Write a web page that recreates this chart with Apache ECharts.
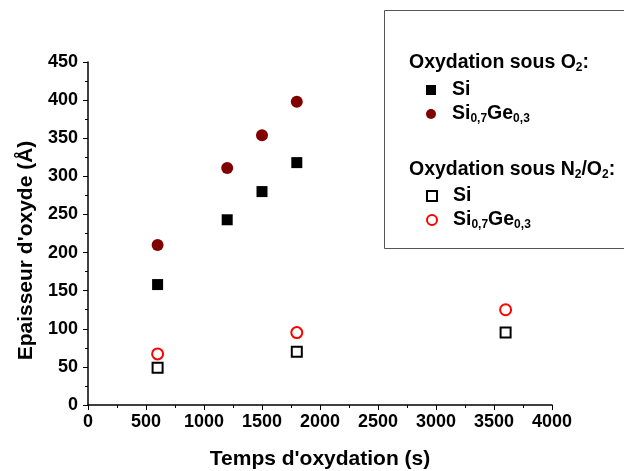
<!DOCTYPE html>
<html lang="en">
<head>
    <meta charset="UTF-8">
    <script src="https://cdn.jsdelivr.net/npm/echarts@6/dist/echarts.min.js"></script>
</head>
<body style="margin:0">
    <div id="main" style="width: 624px; height: 471px;"></div>
    <script>
        // oxidation time (s) and thickness (Å)
        var siO2 = [[600, 158], [1200, 243], [1500, 280], [1800, 318]];
        var siGeO2 = [[600, 210], [1200, 311], [1500, 354], [1800, 398]];
        var siN2O2 = [[600, 49], [1800, 70], [3600, 95]];
        var siGeN2O2 = [[600, 67], [1800, 95], [3600, 125]];

        var font = 'Liberation Sans, Arial, sans-serif';
        var rich = {
            b: {fontFamily: font, fontWeight: 'bold', fontSize: 19.5, color: '#000', lineHeight: 22},
            s: {fontFamily: font, fontWeight: 'bold', fontSize: 12, color: '#000', lineHeight: 22, padding: [10, 0, 0, 0]}
        };
        var names = {
            'Si O2': '{b|Si}',
            'SiGe O2': '{b|Si}{s|0,7}{b|Ge}{s|0,3}',
            'Si N2O2': '{b|Si}',
            'SiGe N2O2': '{b|Si}{s|0,7}{b|Ge}{s|0,3}'
        };

        var dom = document.getElementById('main');
        var chart = echarts.init(dom);

        var axisCommon = {
            axisLine: {lineStyle: {color: '#000', width: 1.5}},
            axisTick: {inside: false, length: 5, lineStyle: {color: '#000', width: 1}},
            minorTick: {show: true, splitNumber: 2, length: 3, lineStyle: {color: '#000', width: 1}},
            splitLine: {show: false},
            axisLabel: {color: '#000', fontFamily: font, fontWeight: 'bold', fontSize: 18,
                        formatter: function (v) { return String(v); }},
            nameTextStyle: {color: '#000', fontFamily: font, fontWeight: 'bold', fontSize: 21}
        };

        function legendAt(top, name) {
            return {
                orient: 'vertical',
                left: 421,
                top: top,
                itemWidth: 10,
                itemHeight: 10,
                textStyle: {rich: rich, padding: [0, 0, 0, 11]},
                formatter: function (n) { return names[n]; },
                data: [name]
            };
        }

        chart.setOption({
            animation: false,
            grid: {left: 88, right: 72, top: 62, bottom: 66, outerBoundsMode: 'none'},
            xAxis: Object.assign({}, axisCommon, {
                type: 'value', min: 0, max: 4000, interval: 500,
                axisLabel: Object.assign({}, axisCommon.axisLabel, {margin: 8}),
                name: "Temps d'oxydation (s)", nameLocation: 'middle', nameGap: 44
            }),
            yAxis: Object.assign({}, axisCommon, {
                type: 'value', min: 0, max: 450, interval: 50,
                axisLabel: Object.assign({}, axisCommon.axisLabel, {margin: 10}),
                name: "Epaisseur d'oxyde (Å)", nameLocation: 'middle', nameGap: 43,
                nameTextStyle: Object.assign({}, axisCommon.nameTextStyle, {padding: [0, 34, 0, 0]})
            }),
            graphic: [
                {type: 'rect', shape: {x: 384.5, y: 10.5, width: 250, height: 238},
                 style: {fill: 'none', stroke: '#555', lineWidth: 1}},
                {type: 'text', left: 409, top: 52,
                 style: {text: '{b|Oxydation sous O}{s|2}{b|:}', rich: rich}},
                {type: 'text', left: 409, top: 159,
                 style: {text: '{b|Oxydation sous N}{s|2}{b|/O}{s|2}{b|:}', rich: rich}}
            ],
            legend: [
                legendAt(75, 'Si O2'),
                legendAt(98, 'SiGe O2'),
                legendAt(181, 'Si N2O2'),
                legendAt(204, 'SiGe N2O2')
            ],
            series: [
                {name: 'Si O2', type: 'scatter', data: siO2, symbol: 'rect', symbolSize: 11,
                 itemStyle: {color: '#000', opacity: 1}},
                {name: 'SiGe O2', type: 'scatter', data: siGeO2, symbol: 'circle', symbolSize: 12,
                 itemStyle: {color: '#800000', opacity: 1}},
                {name: 'Si N2O2', type: 'scatter', data: siN2O2, symbol: 'rect', symbolSize: 10,
                 itemStyle: {color: '#fff', borderColor: '#000', borderWidth: 2, opacity: 1}},
                {name: 'SiGe N2O2', type: 'scatter', data: siGeN2O2, symbol: 'circle', symbolSize: 11,
                 itemStyle: {color: '#fff', borderColor: '#ff0000', borderWidth: 2, opacity: 1}}
            ]
        });
    </script>
</body>
</html>
